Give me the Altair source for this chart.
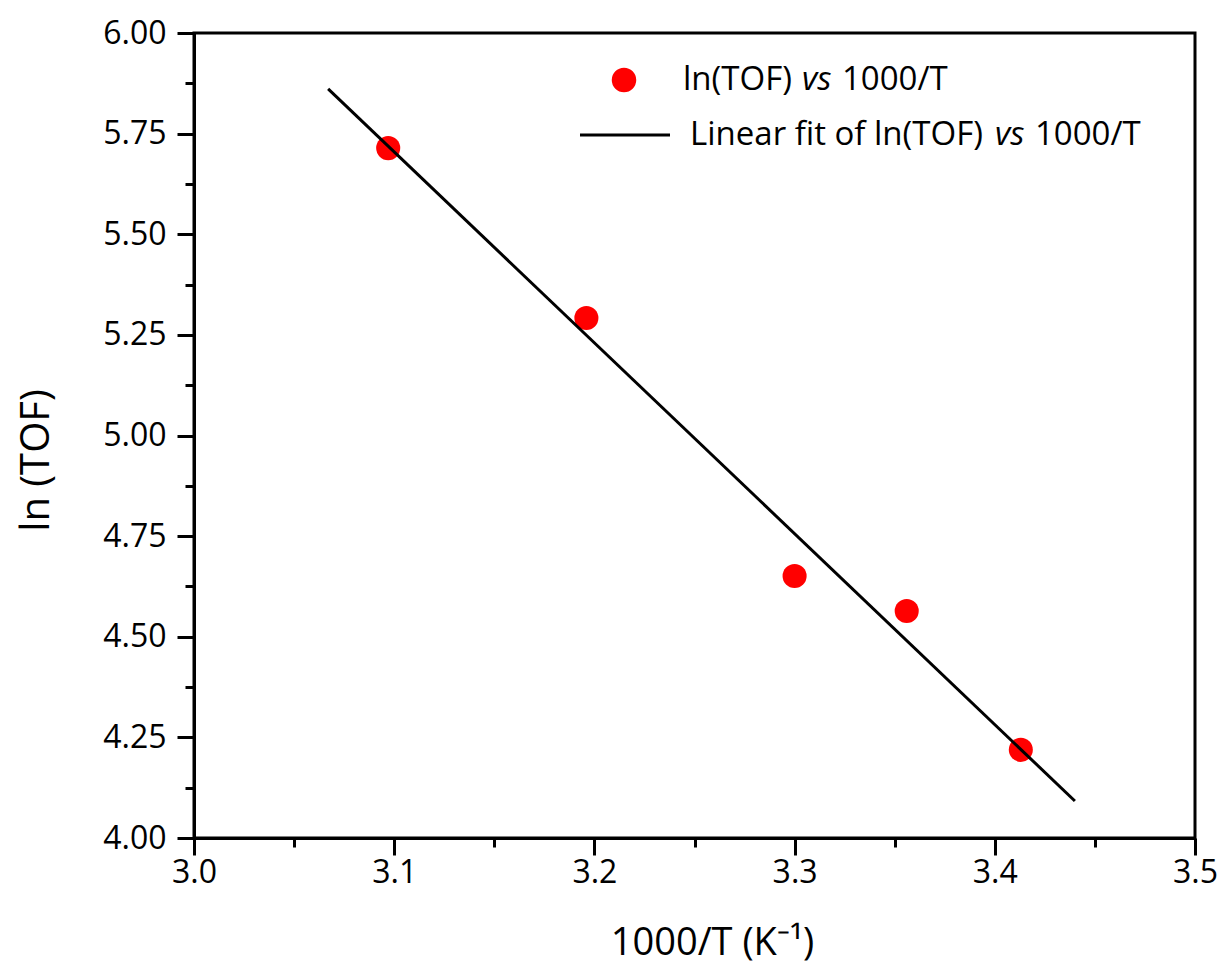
import altair as alt
import pandas as pd

# measured data
inv_T = [3.097, 3.196, 3.300, 3.356, 3.413]
ln_tof = [5.714, 5.292, 4.651, 4.564, 4.219]

# linear fit endpoints
fit_x = [3.067, 3.440]
fit_y = [5.861, 4.092]

x_major = [3.0, 3.1, 3.2, 3.3, 3.4, 3.5]
x_minor = [3.05, 3.15, 3.25, 3.35, 3.45]
y_major = [4.00, 4.25, 4.50, 4.75, 5.00, 5.25, 5.50, 5.75, 6.00]
y_minor = [4.125, 4.375, 4.625, 4.875, 5.125, 5.375, 5.625, 5.875]

FONT = "Open Sans"
W, H = 1001, 805

pts = pd.DataFrame({"x": inv_T, "y": ln_tof})
fit = pd.DataFrame({"x": fit_x, "y": fit_y})

xscale = alt.Scale(domain=[3.0, 3.5], nice=False, zero=False)
yscale = alt.Scale(domain=[4.0, 6.0], nice=False, zero=False)

x_axis_major = alt.Axis(
    values=x_major, format=".1f", orient="bottom", tickSize=17, tickWidth=3,
    labelPadding=2, labelFontSize=32, labelFont=FONT, labelColor="black",
    domainWidth=3, domainColor="black", tickColor="black", grid=False,
    title="1000/T (K\u207b\u00b9)", titleFont=FONT, titleFontSize=38,
    titleFontWeight="normal", titleColor="black",
    titleX=518, titleY=105, titleAlign="center", titleBaseline="middle",
    labelFlush=False,
)
y_axis_major = alt.Axis(
    values=y_major, format=".2f", orient="left", tickSize=17, tickWidth=3,
    labelPadding=11, labelFontSize=32, labelFont=FONT, labelColor="black",
    domainWidth=3, domainColor="black", tickColor="black", grid=False,
    title="ln (TOF)", titleFont=FONT, titleFontSize=40,
    titleFontWeight="normal", titleColor="black",
    titleX=-158, titleY=427, titleAlign="center", titleBaseline="middle",
    titleAngle=-90, labelFlush=False,
)
x_axis_minor = alt.Axis(
    values=x_minor, orient="bottom", tickSize=9, tickWidth=3, labels=False,
    domain=False, tickColor="black", grid=False, title=None,
)
y_axis_minor = alt.Axis(
    values=y_minor, orient="left", tickSize=9, tickWidth=3, labels=False,
    domain=False, tickColor="black", grid=False, title=None,
)

points = alt.Chart(pts).mark_circle(size=580, color="#ff0000", opacity=1).encode(
    x=alt.X("x:Q", scale=xscale, axis=x_axis_major),
    y=alt.Y("y:Q", scale=yscale, axis=y_axis_major),
)

line = alt.Chart(fit).mark_line(color="black", strokeWidth=3).encode(
    x=alt.X("x:Q", scale=xscale, axis=x_axis_minor),
    y=alt.Y("y:Q", scale=yscale, axis=y_axis_minor),
)

one = pd.DataFrame({"a": [0]})

leg_dot = alt.Chart(one).mark_circle(size=600, color="#ff0000", opacity=1).encode(
    x=alt.value(430), y=alt.value(47)
)
leg_line = alt.Chart(one).mark_rule(color="black", strokeWidth=3).encode(
    x=alt.value(386), x2=alt.value(476), y=alt.value(102)
)

def seg(txt, x, y, italic=False):
    return alt.Chart(one).mark_text(
        text=txt, font=FONT, fontSize=33, align="left", baseline="middle",
        color="black", fontStyle="italic" if italic else "normal",
    ).encode(x=alt.value(x), y=alt.value(y))

legend_layers = [
    seg("ln(TOF)", 489, 47),
    seg("vs", 608, 47, italic=True),
    seg("1000/T", 648, 47),
    seg("Linear fit of ln(TOF)", 496, 102),
    seg("vs", 801, 102, italic=True),
    seg("1000/T", 841, 102),
]

chart = alt.layer(points, line, leg_dot, leg_line, *legend_layers).resolve_axis(
    x="independent", y="independent"
).properties(
    width=W, height=H,
    autosize=alt.AutoSizeParams(type="none"),
    padding={"left": 194, "top": 33, "right": 28, "bottom": 131},
    background="white",
).configure_view(stroke="black", strokeWidth=3)

chart.save("out.html", embed_options={"renderer": "svg", "actions": False})
